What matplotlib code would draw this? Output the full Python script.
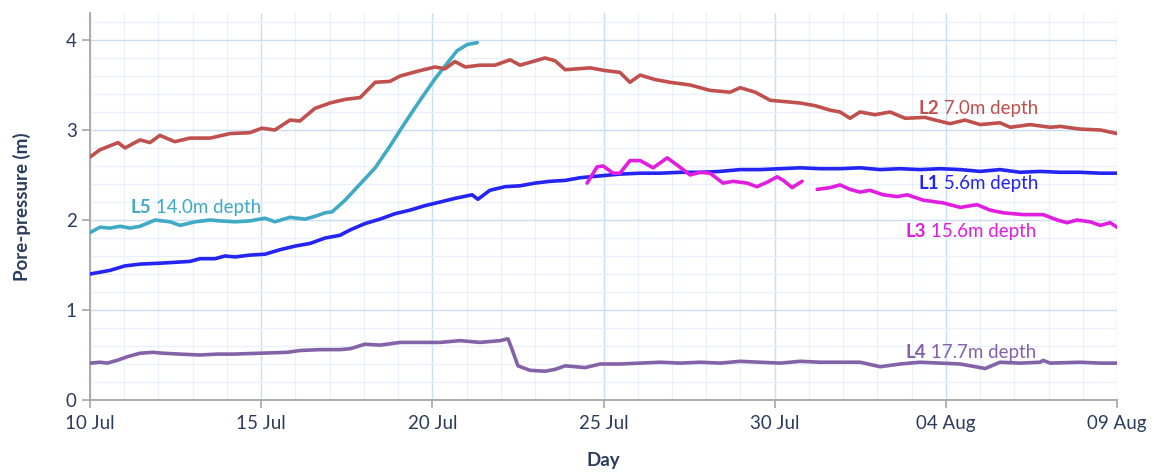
import numpy as np
import matplotlib
matplotlib.use('Agg')
import matplotlib.pyplot as plt
from matplotlib.ticker import MultipleLocator

plt.rcParams['font.family'] = ['Lato', 'DejaVu Sans']

# days after 10 Jul, pore pressure in metres
l2_day = [0.0, 0.29, 0.82, 1.02, 1.46, 1.75, 2.04, 2.48, 2.92, 3.51, 4.09, 4.67, 5.02, 5.40,
          5.84, 6.13, 6.57, 7.01, 7.45, 7.89, 8.33, 8.76, 9.06, 9.64, 10.08, 10.37, 10.66,
          10.96, 11.39, 11.83, 12.27, 12.56, 13.29, 13.58, 13.88, 14.61, 15.05, 15.48, 15.77,
          16.07, 16.51, 16.94, 17.53, 18.11, 18.70, 18.99, 19.43, 19.87, 20.45, 20.74, 21.18,
          21.62, 21.91, 22.20, 22.49, 22.93, 23.37, 23.81, 24.39, 24.69, 25.12, 25.56, 26.00,
          26.58, 26.88, 27.46, 28.05, 28.34, 28.92, 29.51, 30.0]
l2_val = [2.70, 2.78, 2.86, 2.80, 2.89, 2.86, 2.94, 2.87, 2.91, 2.91, 2.96, 2.97, 3.02, 3.00,
          3.11, 3.10, 3.24, 3.30, 3.34, 3.36, 3.53, 3.54, 3.60, 3.66, 3.70, 3.68, 3.76,
          3.70, 3.72, 3.72, 3.78, 3.72, 3.80, 3.77, 3.67, 3.69, 3.66, 3.64, 3.53,
          3.61, 3.56, 3.53, 3.50, 3.44, 3.42, 3.47, 3.42, 3.33, 3.31, 3.30, 3.27,
          3.22, 3.20, 3.13, 3.20, 3.17, 3.20, 3.13, 3.14, 3.11, 3.07, 3.11, 3.06,
          3.08, 3.03, 3.06, 3.03, 3.04, 3.01, 3.00, 2.96]

l1_day = [0.0, 0.58, 1.02, 1.46, 2.04, 2.48, 2.92, 3.21, 3.65, 3.94, 4.24, 4.67, 5.11, 5.55,
          5.99, 6.43, 6.87, 7.30, 7.60, 8.03, 8.47, 8.91, 9.35, 9.79, 10.23, 10.66, 11.16,
          11.33, 11.68, 12.12, 12.56, 13.00, 13.44, 13.88, 14.32, 14.90, 15.48, 16.07, 16.65,
          17.24, 17.82, 18.41, 18.99, 19.57, 20.16, 20.74, 21.33, 21.91, 22.49, 23.08, 23.66,
          24.25, 24.83, 25.42, 26.00, 26.58, 27.17, 27.75, 28.34, 28.92, 29.51, 30.0]
l1_val = [1.40, 1.44, 1.49, 1.51, 1.52, 1.53, 1.54, 1.57, 1.57, 1.60, 1.59, 1.61, 1.62, 1.67,
          1.71, 1.74, 1.80, 1.83, 1.89, 1.96, 2.01, 2.07, 2.11, 2.16, 2.20, 2.24, 2.28,
          2.23, 2.33, 2.37, 2.38, 2.41, 2.43, 2.44, 2.47, 2.49, 2.51, 2.52, 2.52,
          2.53, 2.53, 2.54, 2.56, 2.56, 2.57, 2.58, 2.57, 2.57, 2.58, 2.56, 2.57,
          2.56, 2.57, 2.56, 2.54, 2.56, 2.53, 2.54, 2.53, 2.53, 2.52, 2.52]

l3a_day = [14.52, 14.81, 14.99, 15.28, 15.48, 15.77, 16.07, 16.45, 16.86, 17.15, 17.53, 17.82,
           18.11, 18.49, 18.78, 19.19, 19.48, 19.78, 20.07, 20.25, 20.51, 20.80]
l3a_val = [2.41, 2.59, 2.60, 2.52, 2.52, 2.66, 2.66, 2.58, 2.69, 2.61, 2.50, 2.53,
           2.52, 2.41, 2.43, 2.41, 2.37, 2.42, 2.48, 2.44, 2.36, 2.43]
l3b_day = [21.24, 21.62, 21.91, 22.20, 22.49, 22.78, 23.17, 23.58, 23.87, 24.34, 24.92, 25.42,
           25.91, 26.29, 26.67, 27.26, 27.84, 28.25, 28.54, 28.83, 29.21, 29.51, 29.80, 30.0]
l3b_val = [2.34, 2.36, 2.39, 2.34, 2.31, 2.33, 2.28, 2.26, 2.28, 2.22, 2.19, 2.14,
           2.17, 2.11, 2.08, 2.06, 2.06, 2.00, 1.97, 2.00, 1.98, 1.94, 1.97, 1.92]

l4_day = [0.0, 0.29, 0.50, 0.79, 1.08, 1.46, 1.84, 2.13, 2.63, 3.21, 3.71, 4.18, 4.97, 5.76,
          6.13, 6.72, 7.30, 7.60, 8.03, 8.47, 9.06, 9.64, 10.23, 10.81, 11.39, 11.98, 12.21,
          12.33, 12.50, 12.85, 13.29, 13.58, 13.88, 14.17, 14.46, 14.90, 15.48, 16.07, 16.65,
          17.24, 17.82, 18.41, 18.99, 19.57, 20.16, 20.74, 21.33, 21.91, 22.49, 23.08, 23.66,
          24.25, 24.83, 25.42, 26.15, 26.58, 27.17, 27.75, 27.84, 28.05, 28.92, 29.51, 30.0]
l4_val = [0.41, 0.42, 0.41, 0.44, 0.48, 0.52, 0.53, 0.52, 0.51, 0.50, 0.51, 0.51, 0.52, 0.53,
          0.55, 0.56, 0.56, 0.57, 0.62, 0.61, 0.64, 0.64, 0.64, 0.66, 0.64, 0.66, 0.68,
          0.56, 0.38, 0.33, 0.32, 0.34, 0.38, 0.37, 0.36, 0.40, 0.40, 0.41, 0.42,
          0.41, 0.42, 0.41, 0.43, 0.42, 0.41, 0.43, 0.42, 0.42, 0.42, 0.37, 0.40,
          0.42, 0.41, 0.40, 0.35, 0.42, 0.41, 0.42, 0.44, 0.41, 0.42, 0.41, 0.41]

l5_day = [0.0, 0.29, 0.58, 0.88, 1.17, 1.46, 1.90, 2.34, 2.63, 3.07, 3.51, 3.80, 4.24, 4.67,
          5.11, 5.40, 5.84, 6.28, 6.57, 6.87, 7.07, 7.45, 7.89, 8.33, 8.76, 9.20, 9.64,
          10.08, 10.43, 10.72, 11.02, 11.31]
l5_val = [1.86, 1.92, 1.91, 1.93, 1.91, 1.93, 2.00, 1.98, 1.94, 1.98, 2.00, 1.99, 1.98, 1.99,
          2.02, 1.98, 2.03, 2.01, 2.04, 2.08, 2.09, 2.22, 2.40, 2.58, 2.82, 3.08, 3.33,
          3.57, 3.74, 3.88, 3.95, 3.97]

tick_days = [0, 5, 10, 15, 20, 25, 30]
tick_labels = ['10 Jul', '15 Jul', '20 Jul', '25 Jul', '30 Jul', '04 Aug', '09 Aug']

c_l1 = '#2424f5'
c_l2 = '#c0504d'
c_l3 = '#e01ee0'
c_l4 = '#8462a8'
c_l5 = '#40aac4'
c_text = '#2b3c5c'

fig = plt.figure(figsize=(11.54, 4.72), dpi=100)
ax = fig.add_axes([0.078, 0.1525, 0.89, 0.82])

lw = 2.6
ax.plot(l5_day, l5_val, color=c_l5, lw=lw, solid_capstyle='round', zorder=3)
ax.plot(l2_day, l2_val, color=c_l2, lw=lw, solid_capstyle='round', zorder=3)
ax.plot(l1_day, l1_val, color=c_l1, lw=lw, solid_capstyle='round', zorder=3)
ax.plot(l3a_day, l3a_val, color=c_l3, lw=lw, solid_capstyle='round', zorder=4)
ax.plot(l3b_day, l3b_val, color=c_l3, lw=lw, solid_capstyle='round', zorder=4)
ax.plot(l4_day, l4_val, color=c_l4, lw=lw, solid_capstyle='round', zorder=3)

ax.set_xlim(0, 30)
ax.set_ylim(0, 4.3)
ax.set_xticks(tick_days)
ax.set_xticklabels(tick_labels)
ax.set_yticks([0, 1, 2, 3, 4])
ax.xaxis.set_minor_locator(MultipleLocator(1))
ax.yaxis.set_minor_locator(MultipleLocator(0.2))

ax.grid(which='major', color='#c9def5', lw=1.0, zorder=0)
ax.grid(which='minor', color='#e8f1fb', lw=0.9, zorder=0)
ax.set_axisbelow(True)

for side in ['top', 'right']:
    ax.spines[side].set_visible(False)
for side in ['left', 'bottom']:
    ax.spines[side].set_color('#a6a6a6')
    ax.spines[side].set_linewidth(1.3)
ax.tick_params(which='major', length=6, width=1.2, color='#a6a6a6',
               labelcolor=c_text, labelsize=13.5)
ax.tick_params(which='minor', length=0)
ax.tick_params(axis='x', pad=5)

ax.set_ylabel('Pore-pressure (m)', fontsize=13.5, fontweight='bold', color=c_text, labelpad=25)
ax.set_xlabel('Day', fontsize=13.5, fontweight='bold', color=c_text, labelpad=14)


def depth_label(x, y, tag, rest, color):
    t = ax.text(x, y, tag, color=color, fontsize=13.5, fontweight='bold', va='center', zorder=5)
    ax.annotate(' ' + rest, xy=(1, 0.5), xycoords=t, va='center', ha='left',
                color=color, fontsize=13.5, zorder=5)


depth_label(24.19, 3.24, 'L2', '7.0m depth', c_l2)
depth_label(24.19, 2.41, 'L1', '5.6m depth', c_l1)
depth_label(23.81, 1.87, 'L3', '15.6m depth', c_l3)
depth_label(23.81, 0.53, 'L4', '17.7m depth', c_l4)
depth_label(1.17, 2.14, 'L5', '14.0m depth', c_l5)

fig.savefig('out.png', dpi=100)
